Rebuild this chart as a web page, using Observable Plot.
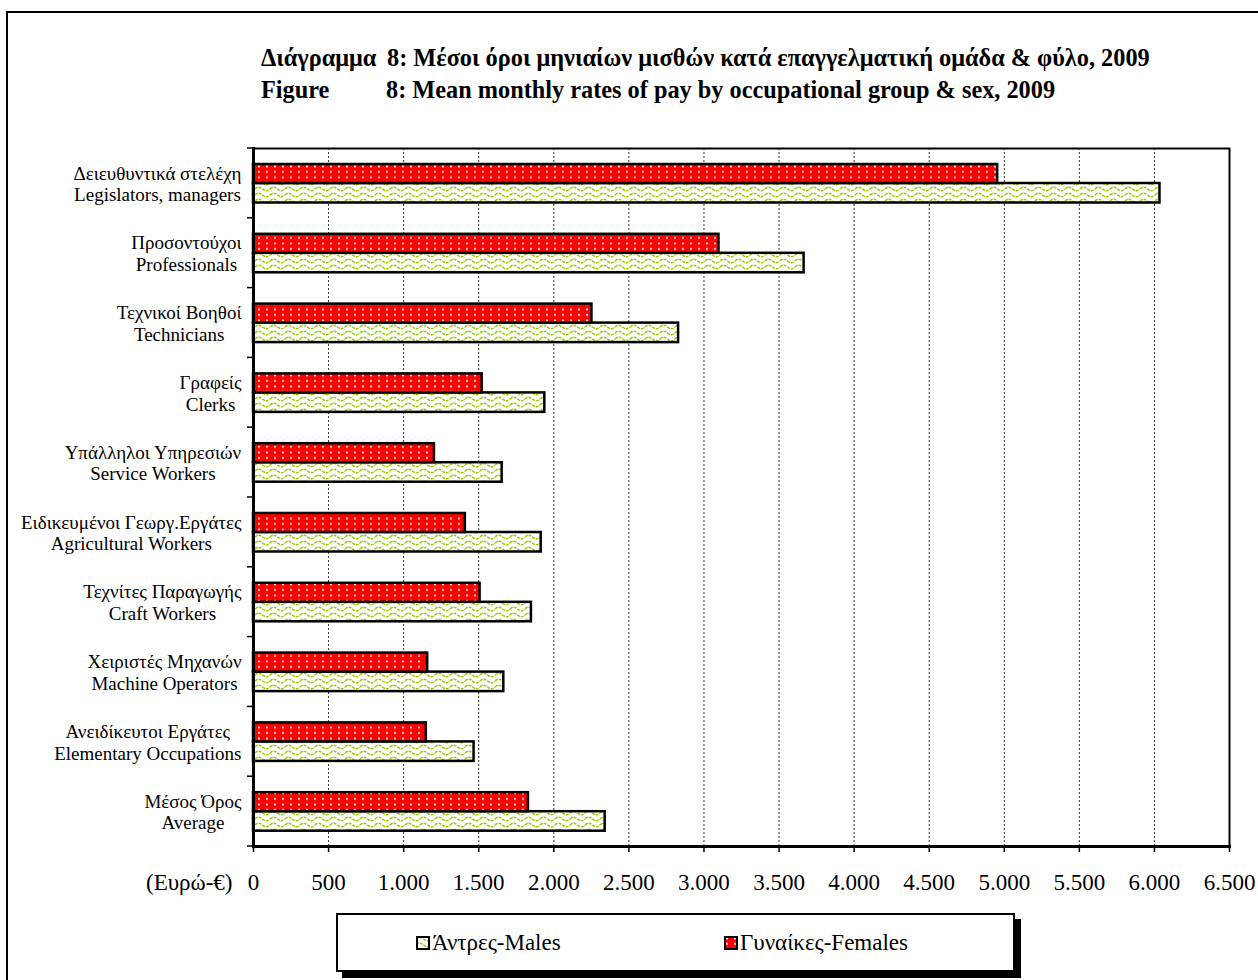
<!DOCTYPE html>
<html>
<head>
<meta charset="utf-8">
<script src="https://cdn.jsdelivr.net/npm/d3@7"></script>
<script src="https://cdn.jsdelivr.net/npm/@observablehq/plot@0.6"></script>
<style>
html,body{margin:0;padding:0;background:#fff;overflow:hidden;width:1258px;height:980px;}
body{position:relative;font-family:"Liberation Serif","Times New Roman",serif;color:#000;}
#outer{position:absolute;left:6px;top:11px;width:1400px;height:1100px;border:2px solid #000;box-sizing:border-box;}
.title{position:absolute;font-weight:bold;font-size:24.3px;white-space:pre;line-height:1;}
#chart{position:absolute;left:0;top:120px;}
#legend{position:absolute;left:336px;top:913px;width:679px;height:59px;box-sizing:border-box;border:2px solid #000;box-shadow:6px 6px 0 #000;background:#fff;}
.item{position:absolute;top:0;height:100%;display:flex;align-items:center;font-size:23px;white-space:pre;}
.item svg{margin-right:2px;}
</style>
</head>
<body>
<svg width="0" height="0" style="position:absolute">
  <defs>
    <pattern id="dots" patternUnits="userSpaceOnUse" width="8" height="5.5">
      <rect width="8" height="5.5" fill="#ff0000"/>
      <circle cx="3" cy="2.5" r="1.05" fill="#ffffff"/>
    </pattern>
    <pattern id="waves" patternUnits="userSpaceOnUse" width="15" height="6">
      <rect width="15" height="6" fill="#ffffff"/>
      <path d="M0,3 Q3.75,-0.6 7.5,3 T15,3" fill="none" stroke="#99cc00" stroke-width="1.6" stroke-dasharray="3,1"/>
    </pattern>
  </defs>
</svg>
<div id="outer"></div>
<div class="title" style="left:261px;top:46px;">Διάγραμμα</div>
<div class="title" style="left:387px;top:46px;">8: Μέσοι όροι μηνιαίων μισθών κατά επαγγελματική ομάδα &amp; φύλο, 2009</div>
<div class="title" style="left:261px;top:78px;">Figure</div>
<div class="title" style="left:386px;top:78px;">8: Mean monthly rates of pay by occupational group &amp; sex, 2009</div>
<div id="chart"></div>
<div id="legend">
  <div class="item" style="left:78px;"><svg width="14" height="14"><rect x="1" y="1" width="12" height="12" fill="url(#waves)" stroke="#000" stroke-width="2"/></svg><span id="lm"></span></div>
  <div class="item" style="left:386px;"><svg width="14" height="14"><rect x="1" y="1" width="12" height="12" fill="url(#dots)" stroke="#000" stroke-width="2"/></svg><span id="lf"></span></div>
</div>
<script>
// ---- data ----
const categoriesEl = ["Δειευθυντικά στελέχη","Προσοντούχοι","Τεχνικοί Βοηθοί","Γραφείς","Υπάλληλοι Υπηρεσιών","Ειδικευμένοι Γεωργ.Εργάτες","Τεχνίτες Παραγωγής","Χειριστές Μηχανών","Ανειδίκευτοι Εργάτες","Μέσος Όρος"];
const categoriesEn = ["Legislators, managers","Professionals","Technicians","Clerks","Service Workers","Agricultural Workers","Craft Workers","Machine Operators","Elementary Occupations","Average"];
const males   = [6037, 3667, 2831, 1940, 1656, 1916, 1851, 1667, 1469, 2342];
const females = [4956, 3100, 2254, 1523, 1205, 1411, 1509, 1160, 1151, 1831];
const xTicks = [0,500,1000,1500,2000,2500,3000,3500,4000,4500,5000,5500,6000,6500];
const seriesLabels = ["Άντρες-Males", "Γυναίκες-Females"];
const unitLabel = "(Ευρώ-€)";

document.getElementById("lm").textContent = seriesLabels[0];
document.getElementById("lf").textContent = seriesLabels[1];

const rows = categoriesEn.map((en, i) => ({key: en, el: categoriesEl[i], en, male: males[i], female: females[i]}));
const fmt = d3.formatLocale({decimal: ",", thousands: ".", grouping: [3], currency: ["", "€"]}).format(",");

const labelFont = 19;
const ctx = document.createElement("canvas").getContext("2d");
ctx.font = `${labelFont}px "Liberation Serif"`;

const labelMarks = rows.map(r => {
  const w = Math.max(ctx.measureText(r.el).width, ctx.measureText(r.en).width);
  return Plot.text([r], {
    y: "key", text: d => d.el + "\n" + d.en,
    frameAnchor: "left", textAnchor: "middle", dx: -(12 + w / 2),
    fontSize: labelFont, lineHeight: 1.14, fill: "#000"
  });
});

function categoryTicks(index, scales, values, dim) {
  const y = scales.y;
  const bw = typeof y.bandwidth === "function" ? y.bandwidth() : (dim.height - dim.marginTop - dim.marginBottom) / rows.length;
  const g = d3.create("svg:g").attr("stroke", "#000").attr("stroke-width", 1.5);
  const edges = rows.map(r => y(r.key));
  edges.push(y(rows[rows.length - 1].key) + bw);
  for (const e of edges) {
    g.append("line").attr("x1", dim.marginLeft - 6).attr("x2", dim.marginLeft).attr("y1", e).attr("y2", e);
  }
  return g.node();
}

const chart = Plot.plot({
  width: 1258,
  height: 780,
  marginLeft: 253,
  marginRight: 29,
  marginTop: 28,
  marginBottom: 54,
  style: {fontFamily: '"Liberation Serif", "Times New Roman", serif', background: "transparent", color: "#000"},
  x: {domain: [0, 6500], axis: null},
  y: {domain: categoriesEn, padding: 0, round: false, axis: null},
  marks: [
    Plot.gridX(xTicks.slice(1, -1), {stroke: "#000", strokeOpacity: 0.8, strokeWidth: 1, strokeDasharray: "2,2"}),
    Plot.barX(rows, {y: "key", x: "male", fill: "url(#waves)", stroke: "#000", strokeWidth: 2.5, insetTop: 35, insetBottom: 15.3}),
    Plot.barX(rows, {y: "key", x: "female", fill: "url(#dots)", stroke: "#000", strokeWidth: 2.5, insetTop: 16, insetBottom: 34.8}),
    Plot.frame({stroke: "#000", strokeWidth: 2}),
    Plot.frame({anchor: "left", stroke: "#000", strokeWidth: 3}),
    Plot.frame({anchor: "bottom", stroke: "#000", strokeWidth: 3}),
    Plot.axisX({ticks: xTicks, tickFormat: fmt, tickSize: 6, tickPadding: 21, fontSize: 23, stroke: "#000", strokeWidth: 1.5, fill: "#000"}),
    Plot.text([unitLabel], {text: d => d, frameAnchor: "bottom-left", textAnchor: "end", lineAnchor: "top", dx: -21, dy: 27, fontSize: 23, fill: "#000"}),
    categoryTicks,
    ...labelMarks
  ]
});
document.getElementById("chart").appendChild(chart);
</script>
</body>
</html>
